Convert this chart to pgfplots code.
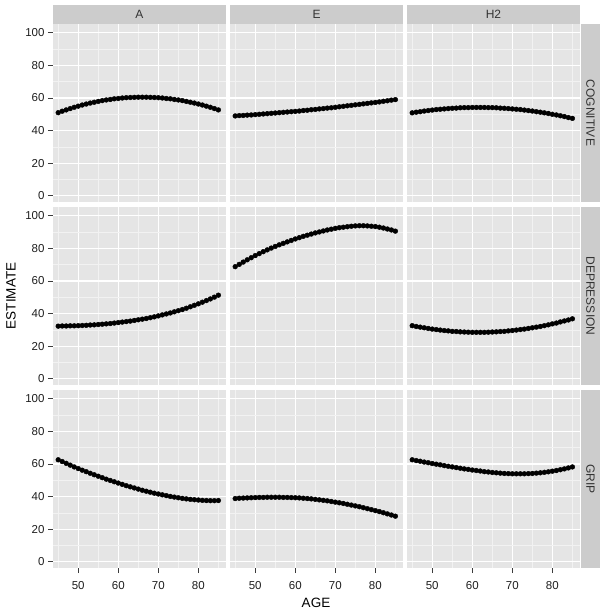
\documentclass[border=0pt]{standalone}
\usepackage{fontspec}
\setmainfont{Liberation Sans}
\usepackage{pgfplots}
\usepackage{pgfplotstable}
\pgfplotsset{compat=1.18}

\definecolor{panelbg}{RGB}{229,229,229}
\definecolor{minorgrid}{RGB}{242,242,242}
\definecolor{stripbg}{RGB}{204,204,204}
\definecolor{ticktext}{RGB}{30,30,30}
\definecolor{tickmark}{RGB}{60,60,60}

% columns: A/E/H2 for COGNITIVE (c), DEPRESSION (d), GRIP (g)
\pgfplotstableread{
age  ac   ec   hc   ad   ed   hd   ag   eg   hg
45 51.0 49.0 50.9 32.3 68.8 32.6 62.6 38.8 62.6
46 51.9 49.2 51.3 32.4 70.2 32.1 61.5 39.0 62.1
47 52.7 49.3 51.6 32.4 71.6 31.7 60.4 39.1 61.7
48 53.5 49.5 52.0 32.5 73.0 31.3 59.3 39.2 61.2
49 54.3 49.6 52.3 32.5 74.3 30.9 58.2 39.3 60.8
50 55.0 49.8 52.6 32.6 75.6 30.5 57.2 39.4 60.3
51 55.7 50.0 52.9 32.7 76.8 30.2 56.2 39.5 59.9
52 56.3 50.2 53.1 32.8 78.0 29.9 55.3 39.5 59.5
53 56.9 50.4 53.3 33.0 79.1 29.6 54.3 39.6 59.0
54 57.4 50.6 53.5 33.1 80.2 29.4 53.4 39.6 58.6
55 57.9 50.8 53.7 33.3 81.2 29.1 52.5 39.6 58.2
56 58.4 51.0 53.8 33.5 82.2 29.0 51.6 39.6 57.8
57 58.8 51.2 54.0 33.7 83.1 28.8 50.7 39.5 57.4
58 59.1 51.4 54.1 33.9 84.0 28.7 49.9 39.5 57.0
59 59.5 51.6 54.1 34.2 84.9 28.6 49.1 39.4 56.7
60 59.7 51.8 54.2 34.5 85.8 28.5 48.3 39.3 56.3
61 60.0 52.0 54.2 34.8 86.6 28.5 47.5 39.2 56.0
62 60.2 52.3 54.2 35.1 87.4 28.5 46.7 39.0 55.7
63 60.3 52.5 54.2 35.4 88.1 28.5 46.0 38.8 55.3
64 60.4 52.8 54.1 35.8 88.8 28.6 45.3 38.6 55.1
65 60.5 53.0 54.1 36.2 89.5 28.7 44.6 38.3 54.8
66 60.5 53.3 54.0 36.6 90.1 28.8 43.9 38.0 54.6
67 60.5 53.5 53.8 37.0 90.7 29.0 43.3 37.7 54.4
68 60.4 53.8 53.7 37.5 91.3 29.1 42.7 37.4 54.2
69 60.3 54.0 53.5 38.0 91.8 29.4 42.1 37.0 54.1
70 60.2 54.3 53.3 38.6 92.3 29.6 41.6 36.6 54.0
71 60.0 54.6 53.1 39.2 92.7 29.9 41.1 36.2 54.0
72 59.7 54.9 52.9 39.8 93.0 30.2 40.6 35.8 54.0
73 59.5 55.2 52.6 40.4 93.3 30.5 40.1 35.3 54.0
74 59.1 55.5 52.3 41.1 93.6 30.9 39.7 34.8 54.1
75 58.8 55.8 52.0 41.8 93.8 31.3 39.3 34.3 54.2
76 58.4 56.1 51.6 42.5 93.9 31.7 38.9 33.8 54.4
77 57.9 56.4 51.3 43.3 93.9 32.1 38.6 33.2 54.6
78 57.4 56.7 50.9 44.2 93.8 32.6 38.3 32.6 54.9
79 56.9 57.0 50.5 45.1 93.6 33.1 38.1 32.0 55.2
80 56.3 57.3 50.0 46.0 93.4 33.7 37.9 31.4 55.6
81 55.7 57.6 49.6 47.0 93.0 34.2 37.7 30.8 56.0
82 55.0 58.0 49.1 48.0 92.5 34.9 37.6 30.1 56.5
83 54.3 58.3 48.6 49.0 91.9 35.5 37.5 29.4 57.0
84 53.5 58.7 48.0 50.1 91.3 36.1 37.5 28.7 57.6
85 52.7 59.0 47.5 51.3 90.6 36.8 37.6 28.0 58.2
}\est

\pgfplotsset{
  panel/.style={
    anchor=south west, width=173pt, height=178pt, scale only axis,
    xmin=43.7, xmax=86.9, ymin=-3.8, ymax=105.4,
    axis line style={draw=none},
    axis background/.style={fill=panelbg},
    xtick={50,60,70,80}, ytick={0,20,40,60,80,100},
    minor xtick={45,55,65,75,85}, minor ytick={10,30,50,70,90},
    grid=both,
    major grid style={white, line width=1.2pt},
    minor grid style={minorgrid, line width=0.6pt},
    xtick pos=bottom, ytick pos=left,
    tick align=outside, major tick length=5pt, minor tick length=0pt,
    xtick style={draw=none}, ytick style={draw=none},
    xticklabels={}, yticklabels={},
    tick label style={font=\fontsize{11.5}{13}\selectfont, text=ticktext},
    xticklabel style={yshift=-5pt},
    /pgf/number format/assume math mode=true,
    clip=false,
  },
  leftcol/.style={yticklabels={0,20,40,60,80,100},
    ytick style={draw=tickmark, line width=0.7pt}},
  bottomrow/.style={xticklabels={50,60,70,80},
    xtick style={draw=tickmark, line width=0.7pt}},
  est/.style={only marks, mark=*, mark size=2.4pt, black},
}

\begin{document}
\begin{tikzpicture}
\useasboundingbox (0pt,0pt) rectangle (604pt,614pt);

% row 1: COGNITIVE
\begin{axis}[panel, leftcol, at={(53pt,412pt)}]
\addplot[est] table[x=age, y=ac] {\est};
\end{axis}
\begin{axis}[panel, at={(230pt,412pt)}]
\addplot[est] table[x=age, y=ec] {\est};
\end{axis}
\begin{axis}[panel, at={(407pt,412pt)}]
\addplot[est] table[x=age, y=hc] {\est};
\end{axis}

% row 2: DEPRESSION
\begin{axis}[panel, leftcol, at={(53pt,229pt)}]
\addplot[est] table[x=age, y=ad] {\est};
\end{axis}
\begin{axis}[panel, at={(230pt,229pt)}]
\addplot[est] table[x=age, y=ed] {\est};
\end{axis}
\begin{axis}[panel, at={(407pt,229pt)}]
\addplot[est] table[x=age, y=hd] {\est};
\end{axis}

% row 3: GRIP
\begin{axis}[panel, leftcol, bottomrow, at={(53pt,46pt)}]
\addplot[est] table[x=age, y=ag] {\est};
\end{axis}
\begin{axis}[panel, bottomrow, at={(230pt,46pt)}]
\addplot[est] table[x=age, y=eg] {\est};
\end{axis}
\begin{axis}[panel, bottomrow, at={(407pt,46pt)}]
\addplot[est] table[x=age, y=hg] {\est};
\end{axis}

% facet strips
\foreach \x/\l in {53/A,230/E,407/H2} {
  \fill[stripbg] (\x pt,590pt) rectangle ++(173pt,19pt);
  \node[font=\fontsize{12}{14}\selectfont, text=black!80] at ({\x pt+86.5pt},599.5pt) {\l};
}
\foreach \y/\l in {412/COGNITIVE,229/DEPRESSION,46/GRIP} {
  \fill[stripbg] (581pt,\y pt) rectangle ++(19pt,178pt);
  \node[rotate=-90, font=\fontsize{12}{14}\selectfont, text=black!80] at (590.5pt,{\y pt+89pt}) {\l};
}

% axis titles
\node[rotate=90, font=\fontsize{13.5}{16}\selectfont] at (11pt,318pt) {ESTIMATE};
\node[font=\fontsize{13.5}{16}\selectfont] at (316pt,11pt) {AGE};
\end{tikzpicture}
\end{document}
